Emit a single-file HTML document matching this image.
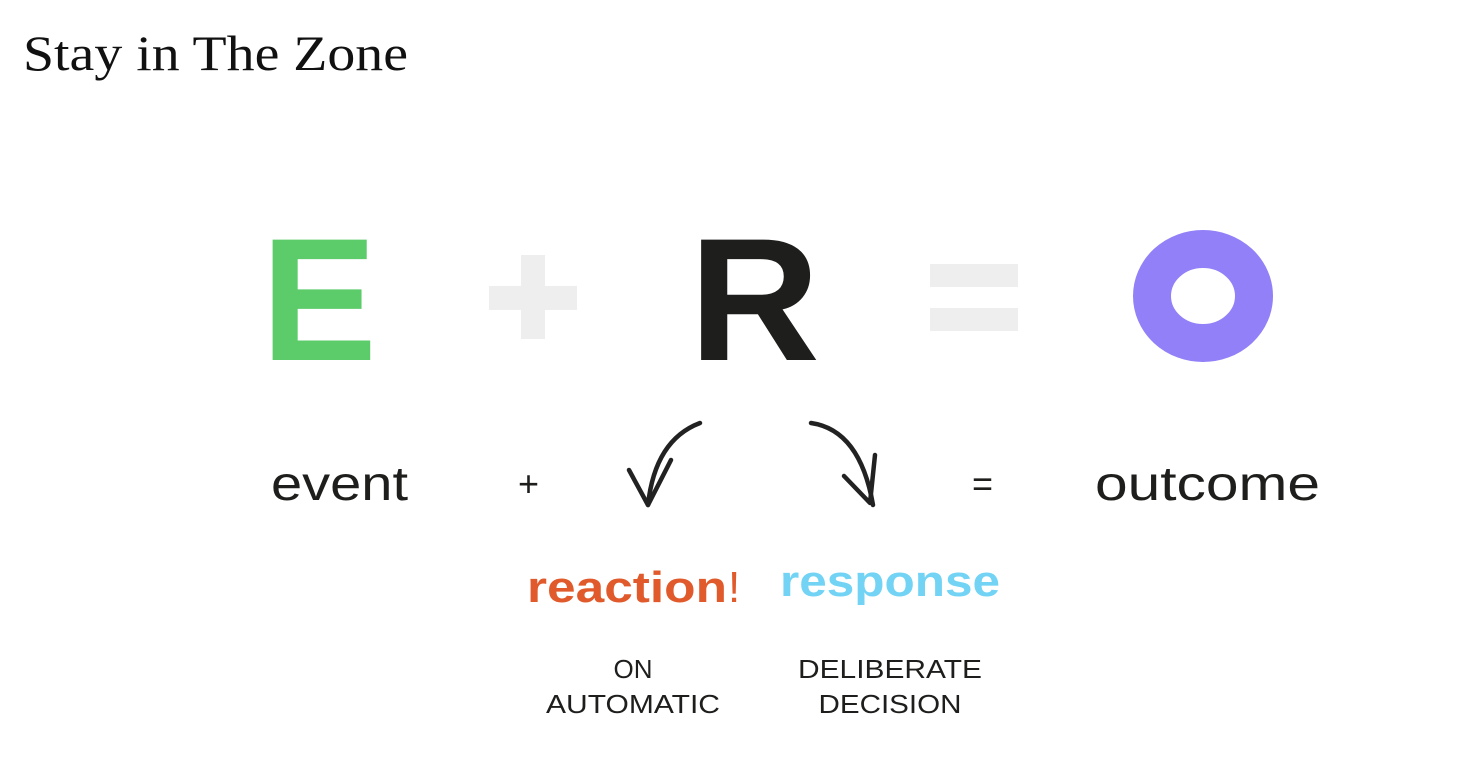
<!DOCTYPE html>
<html><head><meta charset="utf-8"><style>
html,body{margin:0;padding:0;background:#fff;}
svg{display:block;}
</style></head><body>
<svg width="1482" height="782" viewBox="0 0 1482 782" xmlns="http://www.w3.org/2000/svg">
<text x="23" y="70" font-family="Liberation Serif, serif" font-size="50" fill="#111" textLength="385" lengthAdjust="spacingAndGlyphs">Stay in The Zone</text>

<text x="261" y="360" font-family="Liberation Sans, sans-serif" font-weight="bold" font-size="175" fill="#5ccb6a" textLength="116" lengthAdjust="spacingAndGlyphs">E</text>
<rect x="489" y="286" width="88" height="24" fill="#eeeeee"/>
<rect x="521" y="255" width="24" height="84" fill="#eeeeee"/>
<text x="689" y="360" font-family="Liberation Sans, sans-serif" font-weight="bold" font-size="175" fill="#1e1e1c" textLength="131" lengthAdjust="spacingAndGlyphs">R</text>
<rect x="930" y="264" width="88" height="23" fill="#eeeeee"/>
<rect x="930" y="308" width="88" height="23" fill="#eeeeee"/>
<ellipse cx="1203" cy="296" rx="51" ry="47" fill="none" stroke="#9180f7" stroke-width="38"/>

<g font-family="Liberation Sans, sans-serif" fill="#1e1e1c">
<text x="271" y="500" font-size="48" textLength="137" lengthAdjust="spacingAndGlyphs">event</text>
<text x="518" y="496" font-size="36">+</text>
<text x="972" y="496" font-size="36">=</text>
<text x="1095" y="500" font-size="48" textLength="225" lengthAdjust="spacingAndGlyphs">outcome</text>
</g>

<g fill="none" stroke="#222" stroke-width="4.5" stroke-linecap="round" stroke-linejoin="round">
<path d="M700 423 Q655 440 648 505"/>
<path d="M629 470 L648 505 L671 460"/>
<path d="M811 423 Q860 430 873 505"/>
<path d="M844 476 L870 503 L875 455"/>
</g>

<text x="527" y="602" font-family="Liberation Sans, sans-serif" font-weight="bold" font-size="44" fill="#e05a2b" textLength="200" lengthAdjust="spacingAndGlyphs">reaction</text>
<text x="728" y="602" font-family="Liberation Sans, sans-serif" font-size="44" fill="#e05a2b">!</text>
<text x="780" y="596" font-family="Liberation Sans, sans-serif" font-weight="bold" font-size="44" fill="#72d3f5" textLength="220" lengthAdjust="spacingAndGlyphs">response</text>

<g font-family="Liberation Sans, sans-serif" font-size="26" fill="#1e1e1c" text-anchor="middle">
<text x="633" y="678">ON</text>
<text x="633" y="713" textLength="174" lengthAdjust="spacingAndGlyphs">AUTOMATIC</text>
<text x="890" y="678" textLength="184" lengthAdjust="spacingAndGlyphs">DELIBERATE</text>
<text x="890" y="713" textLength="143" lengthAdjust="spacingAndGlyphs">DECISION</text>
</g>
</svg>
</body></html>
